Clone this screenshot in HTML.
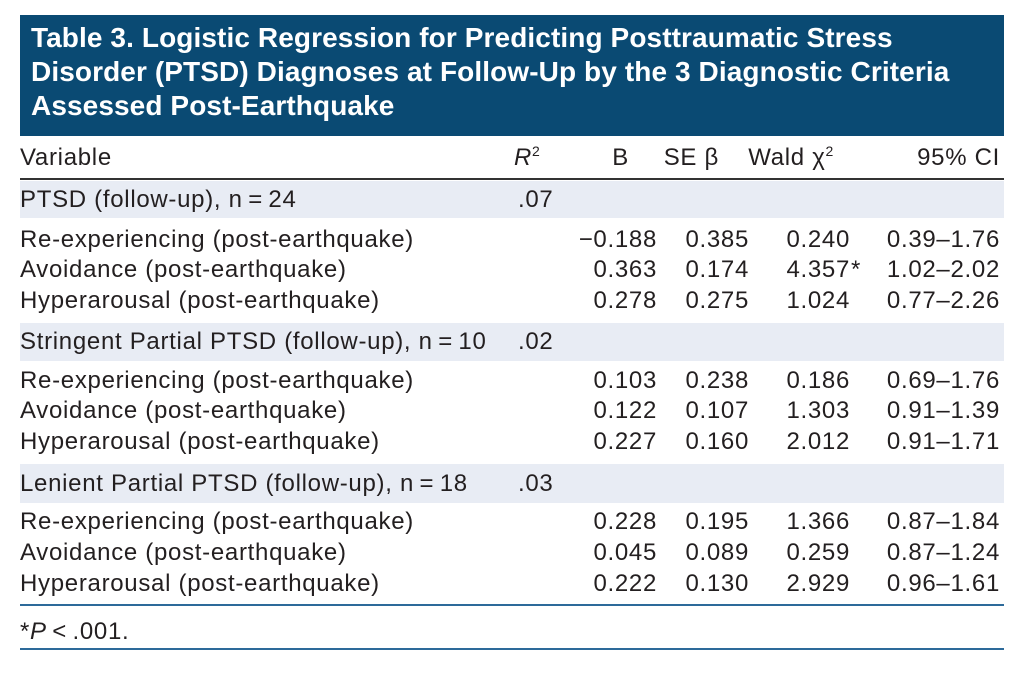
<!DOCTYPE html>
<html><head><meta charset="utf-8"><style>
body{margin:0;width:1024px;height:673px;background:#fff;position:relative;overflow:hidden;font-family:"Liberation Sans",sans-serif;color:#231f20}
.t{position:absolute;font-size:24px;line-height:26px;white-space:nowrap;letter-spacing:0.7px}
.r{text-align:right}
sup{font-size:14px;line-height:0;vertical-align:9px}
.band{position:absolute;left:20px;width:984px;background:#e8ecf4}
.line{position:absolute;left:20px;width:984px}
#title{position:absolute;left:20px;top:15px;width:984px;height:121px;background:#0a4a73;color:#fff;box-sizing:border-box;padding:6px 0 0 11px;font-weight:bold;font-size:28px;line-height:34px;letter-spacing:0.1px}
</style></head><body>
<div id="title">Table 3. Logistic Regression for Predicting Posttraumatic Stress<br>Disorder (PTSD) Diagnoses at Follow-Up by the 3 Diagnostic Criteria<br>Assessed Post-Earthquake</div>
<div class="line" style="top:178px;height:2px;background:#333"></div>
<div class="band" style="top:181px;height:37px"></div>
<div class="band" style="top:323px;height:38px"></div>
<div class="band" style="top:464px;height:39px"></div>
<div class="line" style="top:604px;height:2px;background:#2d6a9a"></div>
<div class="line" style="top:648px;height:2px;background:#2d6a9a"></div>

<div class="t" style="left:20px;top:145px">Variable</div>
<div class="t" style="left:514px;top:145px"><i>R</i><sup>2</sup></div>
<div class="t r" style="right:395px;top:145px">B</div>
<div class="t r" style="right:305px;top:145px">SE β</div>
<div class="t r" style="right:190px;top:145px">Wald χ<sup>2</sup></div>
<div class="t r" style="right:24px;top:145px">95% CI</div>

<div id="rows"></div>
<div class="t" style="left:20px;top:619px">*<i>P</i>&thinsp;&lt;&thinsp;.001.</div>
<script>
const labels=["PTSD (follow-up), n\u2009=\u200924","Re-experiencing (post-earthquake)","Avoidance (post-earthquake)","Hyperarousal (post-earthquake)",
"Stringent Partial PTSD (follow-up), n\u2009=\u200910","Re-experiencing (post-earthquake)","Avoidance (post-earthquake)","Hyperarousal (post-earthquake)",
"Lenient Partial PTSD (follow-up), n\u2009=\u200918","Re-experiencing (post-earthquake)","Avoidance (post-earthquake)","Hyperarousal (post-earthquake)"];
const r2=[".07","","","",".02","","","",".03","","",""];
const bVals=["","\u22120.188","0.363","0.278","","0.103","0.122","0.227","","0.228","0.045","0.222"];
const seVals=["","0.385","0.174","0.275","","0.238","0.107","0.160","","0.195","0.089","0.130"];
const waldVals=["","0.240","4.357*","1.024","","0.186","1.303","2.012","","1.366","0.259","2.929"];
const ciVals=["","0.39\u20131.76","1.02\u20132.02","0.77\u20132.26","","0.69\u20131.76","0.91\u20131.39","0.91\u20131.71","","0.87\u20131.84","0.87\u20131.24","0.96\u20131.61"];
const ys=[200,240,270,301,342,381,411,442,484,522,553,584];
const host=document.getElementById('rows');
function cell(txt,style,name){
  const d=document.createElement('div');
  d.className='t'+(style.right?' r':'');
  Object.assign(d.style,style);
  d.textContent=txt;
  
  
  host.appendChild(d);
}
labels.forEach((l,i)=>{
  const top=(ys[i]-13)+'px';
  cell(l,{left:'20px',top},'row-label');
  if(r2[i])cell(r2[i],{left:'518px',top},'r2-value');
  if(bVals[i])cell(bVals[i],{right:'367px',top},'b-value');
  if(seVals[i])cell(seVals[i],{right:'275px',top},'se-value');
  if(waldVals[i]){
    const w=waldVals[i].replace('*','');
    cell(w,{right:'174px',top},'wald-value');
    if(waldVals[i].includes('*'))cell('*',{left:'851px',top},'significance-marker');
  }
  if(ciVals[i])cell(ciVals[i],{right:'24px',top},'ci-value');
});
</script>
</body></html>
